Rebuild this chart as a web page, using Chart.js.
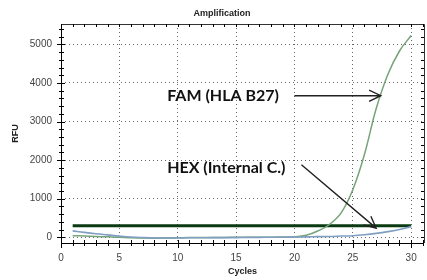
<!DOCTYPE html>
<html><head><meta charset="utf-8">
<script src="https://cdn.jsdelivr.net/npm/chart.js@4/dist/chart.umd.min.js"></script>
<style>html,body{margin:0;padding:0;background:#fff}#wrap{width:427px;height:280px}</style>
</head><body><div id="wrap"><canvas id="c" width="427" height="280"></canvas></div>
<script>
const cycles = [1,2,3,4,5,6,7,8,9,10,11,12,13,14,15,16,17,18,19,20,21,22,23,24,25,26,27,28,29,30];
const famValues = [40,30,20,10,0,-15,-20,-25,-20,-15,-10,-10,-5,-5,0,0,0,0,5,10,50,160,330,630,1230,2150,3330,4220,4830,5230];
const hexValues = [165,125,90,60,30,5,-10,-20,-20,-20,-15,-15,-10,-10,-10,-5,-5,0,0,5,10,15,20,30,40,65,100,145,200,275];
const thresholdX = [1,30];
const thresholdValues = [300,300];
const xTickLabels = [0,5,10,15,20,25,30];
const yTickLabels = [0,1000,2000,3000,4000,5000];
const annotations = [
  {text:'FAM (HLA B27)', tx:9.1, ty:3670, from:[20.0,3670], to:[27.4,3670]},
  {text:'HEX (Internal C.)', tx:9.1, ty:1800, from:[20.6,1880], to:[27.0,235]}
];

Chart.defaults.font.family = '"Liberation Sans", Arial, sans-serif';
const pts = (xs, ys) => xs.map((x,i)=>({x:x, y:ys[i]}));

const framePlugin = {
  id:'frame',
  afterDraw(chart){
    const {ctx, chartArea:a, scales:{x, y}} = chart;
    ctx.save();
    ctx.strokeStyle = '#000'; ctx.lineWidth = 1;
    ctx.beginPath();
    ctx.moveTo(a.left+0.5, a.top); ctx.lineTo(a.left+0.5, a.bottom+0.5);
    ctx.lineTo(a.right, a.bottom+0.5);
    ctx.stroke();
    ctx.strokeStyle = '#333';
    ctx.beginPath();
    ctx.moveTo(a.left, a.top+0.5); ctx.lineTo(a.right+0.5, a.top+0.5); ctx.lineTo(a.right+0.5, a.bottom);
    ctx.stroke();
    ctx.strokeStyle = '#000';
    ctx.beginPath();
    for (let c=0;c<=31;c++){
      const px = Math.round(x.getPixelForValue(c))+0.5;
      const major = c%5===0;
      ctx.moveTo(px, a.bottom-3); ctx.lineTo(px, a.bottom+(major?5:3));
      ctx.moveTo(px, a.top); ctx.lineTo(px, a.top+3);
    }
    for (let v=0; v<=5400; v+=200){
      const py = Math.round(y.getPixelForValue(v))+0.5;
      const major = v%1000===0;
      ctx.moveTo(a.left-(major?4:2), py); ctx.lineTo(a.left+(major?4:3), py);
      ctx.moveTo(a.right-3, py); ctx.lineTo(a.right, py);
    }
    ctx.stroke();
    ctx.fillStyle = '#222';
    ctx.font = 'bold 9px "Liberation Sans", Arial, sans-serif';
    ctx.textAlign = 'center'; ctx.textBaseline = 'middle';
    ctx.fillText('Amplification', 222, 14);
    ctx.font = 'bold 16px Lato, "Liberation Sans", sans-serif';
    ctx.textAlign = 'left';
    ctx.fillStyle = '#111';
    annotations.forEach(an=>{
      ctx.fillText(an.text, x.getPixelForValue(an.tx), y.getPixelForValue(an.ty));
      const x1 = x.getPixelForValue(an.from[0]), y1 = y.getPixelForValue(an.from[1]);
      const x2 = x.getPixelForValue(an.to[0]), y2 = y.getPixelForValue(an.to[1]);
      ctx.strokeStyle = '#222'; ctx.lineWidth = 1.4;
      ctx.beginPath(); ctx.moveTo(x1,y1); ctx.lineTo(x2,y2);
      const ang = Math.atan2(y2-y1, x2-x1), L=13, h=0.45;
      ctx.moveTo(x2 - L*Math.cos(ang-h), y2 - L*Math.sin(ang-h)); ctx.lineTo(x2,y2);
      ctx.lineTo(x2 - L*Math.cos(ang+h), y2 - L*Math.sin(ang+h));
      ctx.stroke();
    });
    ctx.restore();
  }
};

const tickFont = {family:'"Liberation Sans", Arial, sans-serif', size:10};
new Chart(document.getElementById('c'), {
  type:'line',
  data:{datasets:[
    {label:'HEX', data:pts(cycles, hexValues), borderColor:'#7e9fc2', borderWidth:1.6, pointRadius:0, tension:0.4, fill:false},
    {label:'FAM', data:pts(cycles, famValues), borderColor:'#76a37a', borderWidth:1.5, pointRadius:0, tension:0.4, fill:false},
    {label:'Threshold', data:pts(thresholdX, thresholdValues), borderColor:'#0b3a12', borderWidth:3, pointRadius:0, tension:0, fill:false}
  ]},
  plugins:[framePlugin],
  options:{
    responsive:false, animation:false,
    layout:{padding:{top:24, right:3, left:0, bottom:0}},
    plugins:{legend:{display:false}, tooltip:{enabled:false}, title:{display:false}},
    scales:{
      x:{type:'linear', min:0, max:31.1,
        afterFit(s){ s.height = 37; },
        afterBuildTicks(s){ s.ticks = xTickLabels.map(v=>({value:v})); },
        ticks:{stepSize:5, includeBounds:false, padding:9, color:'#444', font:tickFont, maxRotation:0, callback:(v)=>String(v)},
        grid:{drawTicks:false, color:(c)=> c.tick && c.tick.value===0 ? 'transparent' : '#666'},
        border:{display:false, dash:[1,3]},
        title:{display:true, text:'Cycles', color:'#222', font:{family:'"Liberation Sans", Arial, sans-serif', size:9, weight:'bold'}, padding:{top:0,bottom:3}}
      },
      y:{type:'linear', min:-150, max:5530,
        afterFit(s){ s.width = 61; },
        afterBuildTicks(s){ s.ticks = yTickLabels.map(v=>({value:v})); },
        ticks:{stepSize:1000, includeBounds:false, padding:9, color:'#444', font:tickFont, callback:(v)=>String(v)},
        grid:{drawTicks:false, color:'#666'},
        border:{display:false, dash:[1,3]},
        title:{display:true, text:'RFU', color:'#222', font:{family:'"Liberation Sans", Arial, sans-serif', size:9, weight:'bold'}, padding:{top:10,bottom:0}}
      }
    }
  }
});
</script></body></html>
